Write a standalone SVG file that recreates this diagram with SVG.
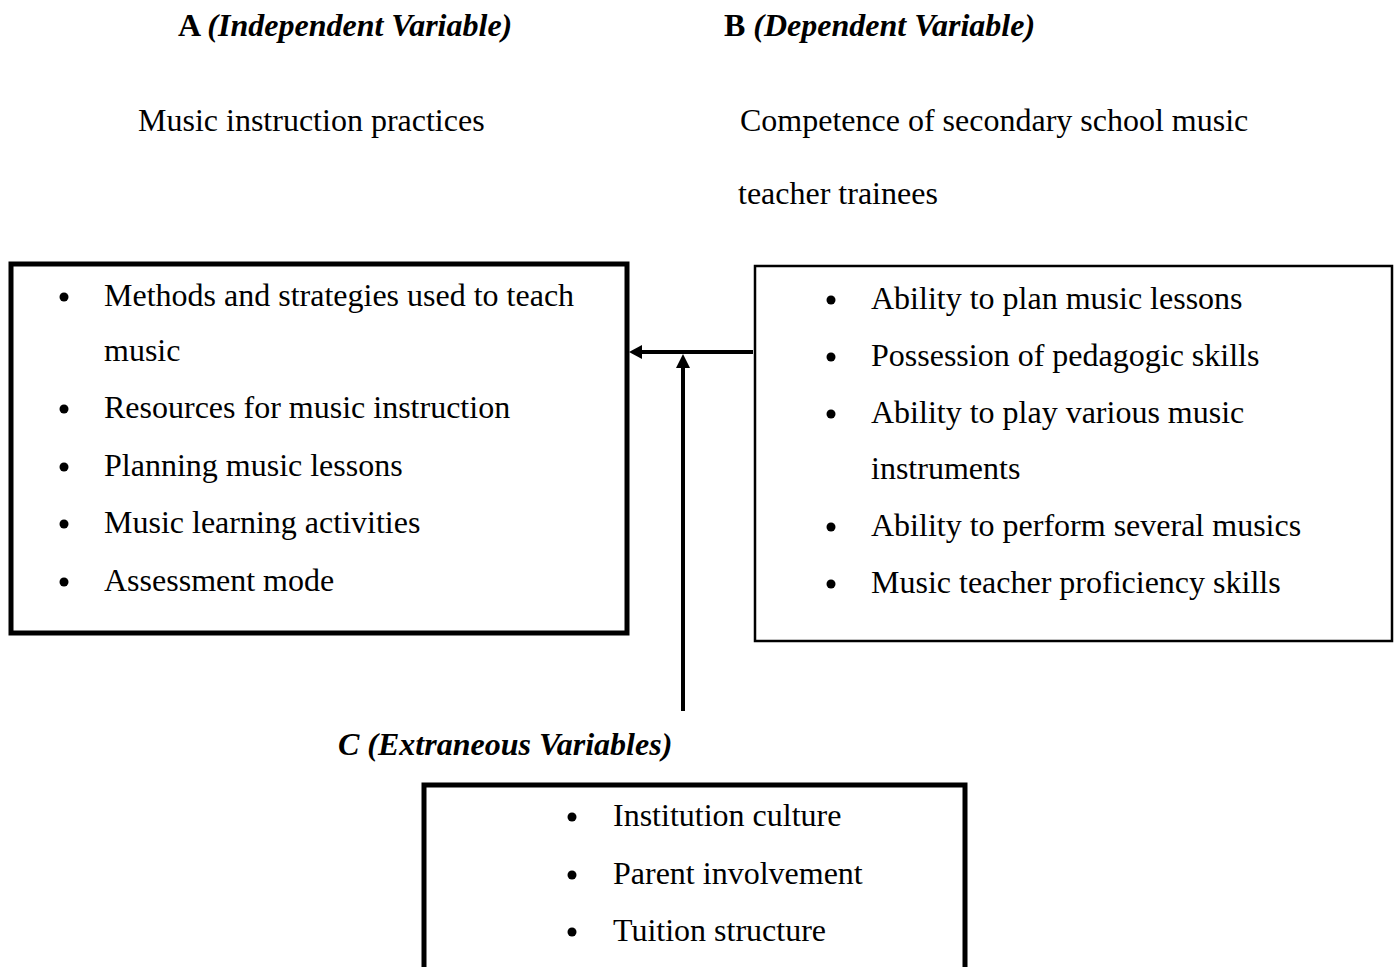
<svg xmlns="http://www.w3.org/2000/svg" width="1399" height="967" viewBox="0 0 1399 967">
<style>
text{font-family:"Liberation Serif","Times New Roman",serif;font-size:32px;fill:#000}
.b{font-weight:bold}
.i{font-style:italic;font-weight:bold}
.box{fill:#fff;stroke:#000}
.dot{fill:#000}
.conn{stroke:#000;stroke-width:4;fill:none}
.head{fill:#000}
</style>
<rect width="1399" height="967" fill="#fff"/>
<g id="headers">
<text x="178" y="36"><tspan class="b">A </tspan><tspan class="i">(Independent Variable)</tspan></text>
<text x="724" y="36"><tspan class="b">B </tspan><tspan class="i">(Dependent Variable)</tspan></text>
<text x="138" y="131">Music instruction practices</text>
<text x="740" y="131">Competence of secondary school music</text>
<text x="738" y="204">teacher trainees</text>
</g>
<g id="nodeA">
<rect class="box" x="11" y="264" width="616" height="369" stroke-width="5"/>
<circle class="dot" cx="64" cy="297" r="4.5"/>
<text x="104" y="306">Methods and strategies used to teach</text>
<text x="104" y="361">music</text>
<circle class="dot" cx="64" cy="409" r="4.5"/>
<text x="104" y="418">Resources for music instruction</text>
<circle class="dot" cx="64" cy="467" r="4.5"/>
<text x="104" y="476">Planning music lessons</text>
<circle class="dot" cx="64" cy="524" r="4.5"/>
<text x="104" y="533">Music learning activities</text>
<circle class="dot" cx="64" cy="582" r="4.5"/>
<text x="104" y="591">Assessment mode</text>
</g>
<g id="nodeB">
<rect class="box" x="755" y="266" width="637" height="375" stroke-width="2.5"/>
<circle class="dot" cx="831" cy="300" r="4.5"/>
<text x="871" y="309">Ability to plan music lessons</text>
<circle class="dot" cx="831" cy="357" r="4.5"/>
<text x="871" y="366">Possession of pedagogic skills</text>
<circle class="dot" cx="831" cy="414" r="4.5"/>
<text x="871" y="423">Ability to play various music</text>
<text x="871" y="479">instruments</text>
<circle class="dot" cx="831" cy="527" r="4.5"/>
<text x="871" y="536">Ability to perform several musics</text>
<circle class="dot" cx="831" cy="584" r="4.5"/>
<text x="871" y="593">Music teacher proficiency skills</text>
</g>
<g id="nodeC">
<text x="338" y="755" class="i">C (Extraneous Variables)</text>
<rect class="box" x="424" y="785" width="541" height="200" stroke-width="5"/>
<circle class="dot" cx="572" cy="817" r="4.5"/>
<text x="613" y="826">Institution culture</text>
<circle class="dot" cx="572" cy="875" r="4.5"/>
<text x="613" y="884">Parent involvement</text>
<circle class="dot" cx="572" cy="932" r="4.5"/>
<text x="613" y="941">Tuition structure</text>
</g>
<g id="connectors">
<line class="conn" x1="753" y1="352" x2="640" y2="352"/>
<polygon class="head" points="629,352 642,345 642,359"/>
<line class="conn" x1="683" y1="711" x2="683" y2="366"/>
<polygon class="head" points="683,354 676,368 690,368"/>
</g>
</svg>
